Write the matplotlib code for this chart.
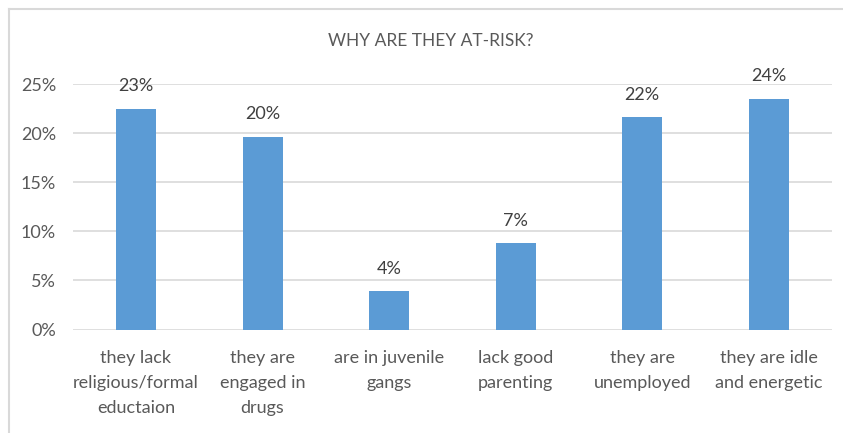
import matplotlib.pyplot as plt
from matplotlib.lines import Line2D

categories = ["they lack\nreligious/formal\neductaion", "they are\nengaged in\ndrugs",
              "are in juvenile\ngangs", "lack good\nparenting",
              "they are\nunemployed", "they are idle\nand energetic"]
values = [22.5, 19.6, 3.9, 8.8, 21.6, 23.5]
labels = ["23%", "20%", "4%", "7%", "22%", "24%"]
yticks = [0, 5, 10, 15, 20, 25]

plt.rcParams['font.family'] = ['Lato', 'DejaVu Sans']
txt = '#595959'
grid = '#d9d9d9'

fig = plt.figure(figsize=(8.43, 4.33), dpi=100)
ax = fig.add_axes([0.0862, 0.239, 0.9008, 0.567])

x = range(len(categories))
ax.bar(x, values, width=0.316, color='#5b9bd5', zorder=3)
for i, v in enumerate(values):
    ax.annotate(labels[i], (i, v), xytext=(0, 10.5), textcoords='offset points',
                ha='center', va='bottom', fontsize=13, color='#404040', clip_on=False)

ax.set_xlim(-0.5, len(categories) - 0.5)
ax.set_ylim(0, 25)
ax.set_yticks(yticks)
ax.set_yticklabels([f"{t}%" for t in yticks])
ax.set_xticks(list(x))
ax.set_xticklabels(categories, linespacing=1.68)
ax.tick_params(axis='y', length=0, pad=12, labelsize=13, labelcolor=txt)
ax.tick_params(axis='x', length=0, pad=15, labelsize=13, labelcolor=txt)
ax.yaxis.grid(True, color=grid, linewidth=1.2, zorder=0)
for s in ax.spines.values():
    s.set_visible(False)

fig.text(0.511, 0.905, "WHY ARE THEY AT-RISK?", ha='center', va='center',
         fontsize=12.5, color=txt)

# chart frame (left and top edges visible)
fig.add_artist(Line2D([8.5 / 843, 8.5 / 843], [-0.05, 1 - 8.5 / 433],
                      transform=fig.transFigure, color=grid, linewidth=1.5))
fig.add_artist(Line2D([8.5 / 843, 1.05], [1 - 8.5 / 433, 1 - 8.5 / 433],
                      transform=fig.transFigure, color=grid, linewidth=1.5))

fig.savefig("out.png", dpi=100)
